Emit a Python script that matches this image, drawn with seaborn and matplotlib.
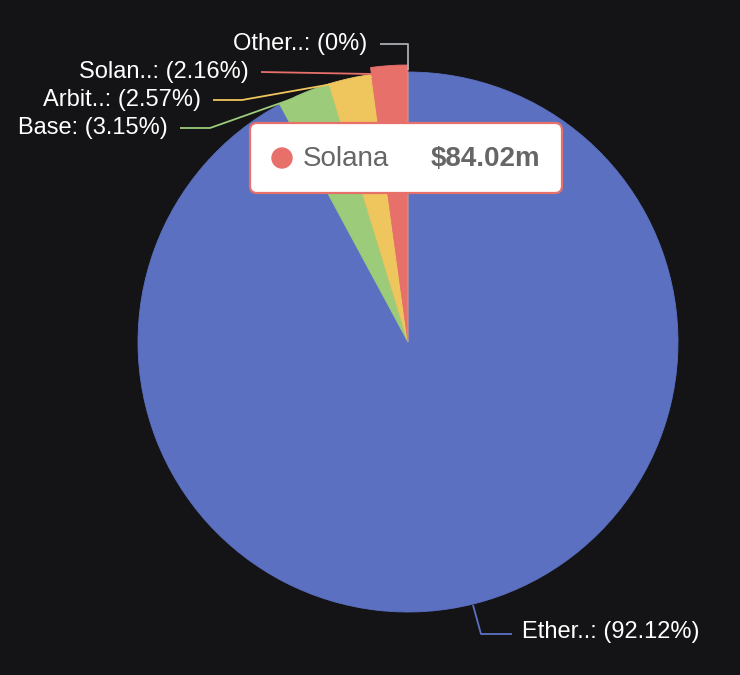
import matplotlib
matplotlib.use("Agg")
import matplotlib.pyplot as plt
import seaborn as sns
from matplotlib.patches import FancyBboxPatch, Circle

# ---- data ----
chains = ["Ethereum", "Base", "Arbitrum", "Solana", "Other"]
short_labels = ["Ether..", "Base", "Arbit..", "Solan..", "Other.."]
shares = [92.12, 3.15, 2.57, 2.16, 0.0]
tooltip_chain = "Solana"
tooltip_value = "$84.02m"

# ---- style ----
BG = "#141416"
colors = ["#5b70c1", "#9ccb7a", "#efc55e", "#e8706b", "#a9adb3"]

sns.set_theme(style="dark")
plt.rcParams['font.family'] = ['Liberation Sans', 'DejaVu Sans']

W, H = 740, 675
fig = plt.figure(figsize=(7.4, 6.75), dpi=100, facecolor=BG)
ax = fig.add_axes([0, 0, 1, 1])
ax.set_facecolor(BG)

cx, cy, R = 408, 342, 270
wedges, _ = ax.pie(shares, colors=colors, startangle=-90, counterclock=True,
                   center=(cx, cy), radius=R, frame=True,
                   wedgeprops=dict(linewidth=0.6))
for w in wedges:
    w.set_edgecolor(w.get_facecolor())
# highlighted (hovered) slice is drawn slightly larger
hi = chains.index(tooltip_chain)
wedges[hi].set_radius(R + 7)

ax.set_xlim(0, W)
ax.set_ylim(H, 0)
ax.set_aspect('auto')
ax.axis('off')

# ---- labels with connectors ----
lab_font = 17
def label(i, text_xy, ha, path):
    xs, ys = zip(*path)
    ax.plot(xs, ys, color=colors[i], lw=1.3, solid_capstyle='butt', zorder=3)
    ax.text(text_xy[0], text_xy[1], f"{short_labels[i]}: ({shares[i]:g}%)",
            ha=ha, va='center', color='white', fontsize=lab_font, zorder=4)

label(4, (367, 44), 'right', [(380, 44), (408, 44), (408, 70)])
label(3, (249, 72), 'right', [(261, 72), (372, 74)])
label(2, (201, 100), 'right', [(213, 100), (242, 100), (372, 77)])
label(1, (168, 128), 'right', [(180, 128), (210, 128), (292, 99)])
label(0, (522, 632), 'left', [(473, 605), (481, 634), (512, 634)])

# ---- tooltip ----
box = FancyBboxPatch((250, 123), 312, 70,
                     boxstyle="round,pad=0,rounding_size=7",
                     facecolor='white', edgecolor=colors[hi], lw=1.6, zorder=10)
ax.add_patch(box)
ax.add_patch(Circle((282, 158), 10, color=colors[hi], zorder=11))
ax.text(303, 159, tooltip_chain, ha='left', va='center', fontsize=20,
        color='#666666', zorder=12)
ax.text(540, 159, tooltip_value, ha='right', va='center', fontsize=20,
        fontweight='bold', color='#666666', zorder=12)

fig.savefig("out.png", dpi=100, facecolor=BG)
